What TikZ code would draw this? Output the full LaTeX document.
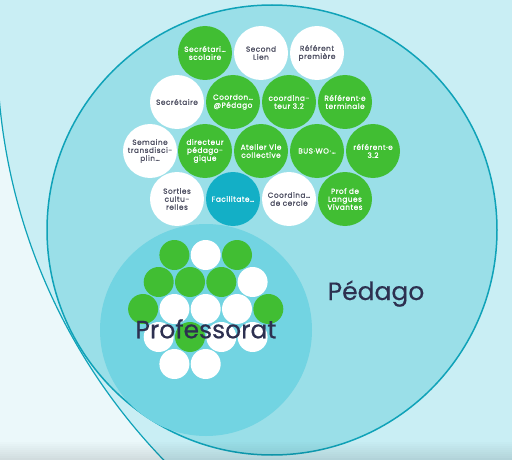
\documentclass[tikz,border=0pt]{standalone}
\usepackage{fontspec}
\setmainfont{Poppins}
\newfontfamily\bigfont{Poppins}[FakeBold=0.5]
\newfontfamily\smallfont{Poppins}[LetterSpace=7, FakeBold=1.2]
\definecolor{bglight}{HTML}{EBF8FA}
\definecolor{bigfill}{HTML}{C9EEF4}
\definecolor{pedfill}{HTML}{9ADFE8}
\definecolor{proffill}{HTML}{72D4E2}
\definecolor{tealline}{HTML}{0FA2B8}
\definecolor{rolegreen}{HTML}{41BE33}
\definecolor{roleteal}{HTML}{13AFC6}
\definecolor{greytext}{HTML}{4F5063}
\definecolor{darktext}{HTML}{2D3050}
\tikzset{
  role/.style={circle, minimum size=54pt, inner sep=0pt, align=center,
    font=\smallfont\fontsize{7.3}{8}\selectfont},
  rolegreen/.style={role, fill=rolegreen, text=white},
  rolewhite/.style={role, fill=white, text=greytext},
  roleteal/.style={role, fill=roleteal, text=white},
  prof/.style={circle, minimum size=30pt, inner sep=0pt},
  profg/.style={prof, fill=rolegreen},
  profw/.style={prof, fill=white},
  bigtext/.style={font=\bigfont\fontsize{25}{28}\selectfont, text=darktext, anchor=base, inner sep=0pt}
}
\begin{document}
\begin{tikzpicture}[x=1pt,y=-1pt]
\useasboundingbox (0,0) rectangle (512,460);
\clip (0,0) rectangle (512,460);
\fill[bglight] (0,0) rectangle (512,460);
% huge circle
\fill[bigfill] (592,47) circle (595);
\draw[tealline, line width=1.2pt] (592,47) circle (595);
% Pedago circle
\fill[pedfill] (272,230) circle (225);
\draw[tealline, line width=1.5pt] (272,230) circle (225);
% Professorat circle
\fill[proffill] (206,330) circle (106);
% bottom shadow
\foreach \i in {0,...,9} {
  \fill[black, opacity=0.012*\i] (0,440+2*\i) rectangle (512,442+2*\i);
}
% role circles: row 1
\node[rolegreen] (r11) at (205,53) {Secrétari…\\scolaire};
\node[rolewhite] (r12) at (261,53) {Second\\Lien};
\node[rolewhite] (r13) at (317,53) {Référent\\première};
% row 2
\node[rolewhite] (r21) at (177,102) {Secrétaire};
\node[rolegreen] (r22) at (233,102) {Coordon…\\@Pédago};
\node[rolegreen] (r23) at (289,102) {coordina-\\teur 3.2};
\node[rolegreen] (r24) at (345,102) {Référent·e\\terminale};
% row 3
\node[rolewhite] (r31) at (150,151) {Semaine\\transdisci-\\plin…};
\node[rolegreen] (r32) at (205,151) {directeur\\pédago-\\gique};
\node[rolegreen] (r33) at (261,151) {Atelier Vie\\collective};
\node[rolegreen] (r34) at (317,151) {BUS·WO·…};
\node[rolegreen] (r35) at (373,151) {référent·e\\3.2};
% row 4
\node[rolewhite] (r41) at (177,199) {Sorties\\cultu-\\relles};
\node[roleteal]  (r42) at (233,199) {Facilitate…};
\node[rolewhite] (r43) at (289,199) {Coordina…\\de cercle};
\node[rolegreen] (r44) at (345,199) {Prof de\\Langues\\Vivantes};
% professorat cluster
\node[profg] (p11) at (174.4,255) {};
\node[profw] (p12) at (205.7,255) {};
\node[profg] (p13) at (237.0,255) {};
\node[profg] (p21) at (158.7,282) {};
\node[profg] (p22) at (190.0,282) {};
\node[profg] (p23) at (221.3,282) {};
\node[profw] (p24) at (252.6,282) {};
\node[profg] (p31) at (143.1,309) {};
\node[profw] (p32) at (174.4,309) {};
\node[profw] (p33) at (205.7,309) {};
\node[profw] (p34) at (237.0,309) {};
\node[profg] (p35) at (268.3,309) {};
\node[profw] (p41) at (158.7,337) {};
\node[profg] (p42) at (190.0,337) {};
\node[profw] (p43) at (221.3,337) {};
\node[profw] (p44) at (252.6,337) {};
\node[profw] (p51) at (174.4,364) {};
\node[profw] (p52) at (205.7,364) {};
% labels
\node[bigtext] (proflabel) at (206,338.3) {Professorat};
\node[bigtext] (pedlabel) at (376,300) {Pédago};
\end{tikzpicture}
\end{document}
